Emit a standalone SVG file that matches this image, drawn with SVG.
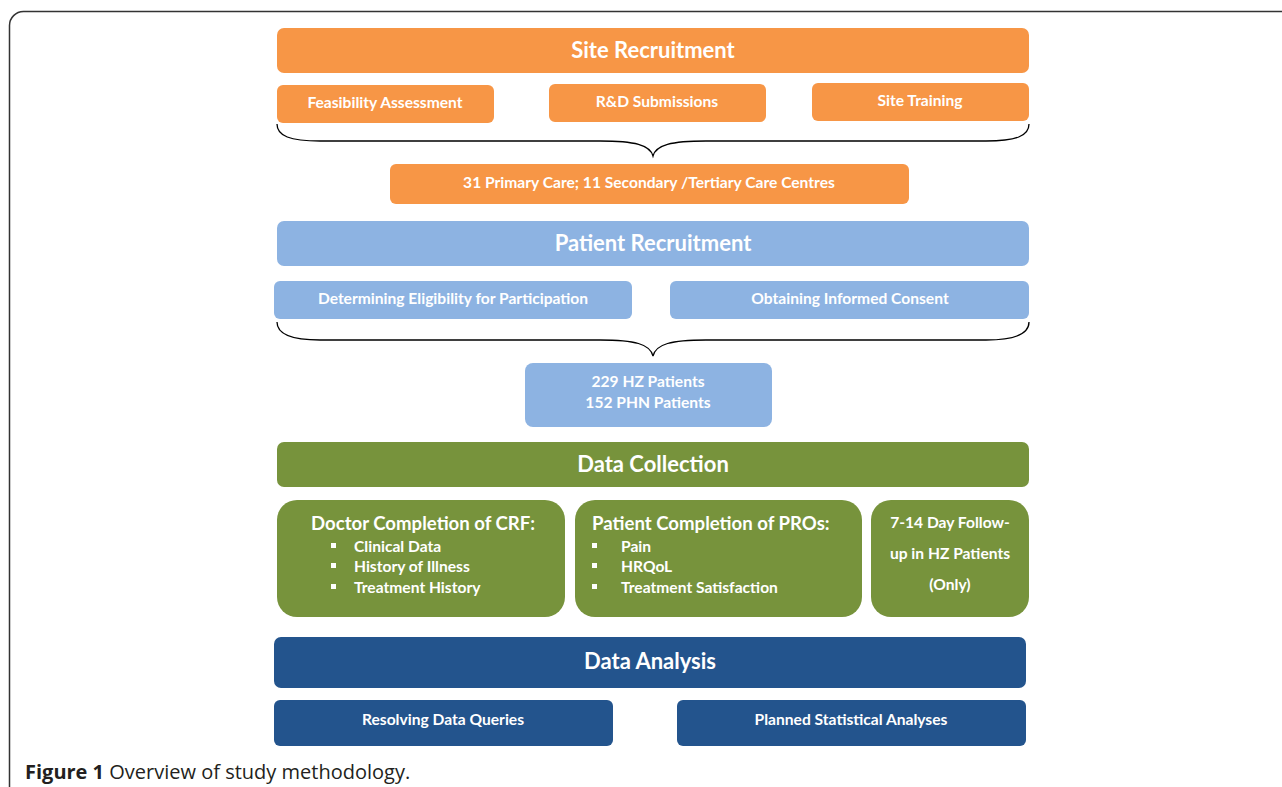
<svg xmlns="http://www.w3.org/2000/svg" width="1282" height="787" viewBox="0 0 1282 787">
<style>
text{font-family:Lato,"Open Sans","Liberation Sans",sans-serif;font-weight:bold;fill:#fff;text-anchor:middle}
.or{fill:#F79646}
.bl{fill:#8DB3E2}
.gr{fill:#77933C}
.db{fill:#23548D}
.h{font-size:22px}
.s{font-size:15.6px}
.m{font-size:18.6px}
.l{text-anchor:start}
.brace{fill:none;stroke:#000;stroke-width:1.3}
</style>
<rect x="9.5" y="11.5" width="1300" height="800" rx="14" fill="none" stroke="#333" stroke-width="1.5"/>
<g id="site-recruitment"><rect class="or" x="277" y="28" width="752" height="45" rx="7"/><text class="h" x="653" y="58">Site Recruitment</text></g>
<g id="feasibility"><rect class="or" x="277" y="85" width="217" height="38" rx="6"/><text class="s" x="385" y="108">Feasibility Assessment</text></g>
<g id="rd"><rect class="or" x="549" y="84" width="217" height="38" rx="6"/><text class="s" x="657" y="107">R&amp;D Submissions</text></g>
<g id="training"><rect class="or" x="812" y="83" width="217" height="38" rx="6"/><text class="s" x="920" y="106">Site Training</text></g>
<g id="centres"><rect class="or" x="390" y="164" width="519" height="40" rx="6"/><text class="s" x="649" y="188">31 Primary Care; 11 Secondary /Tertiary Care Centres</text></g>
<g id="patient-recruitment"><rect class="bl" x="277" y="221" width="752" height="45" rx="7"/><text class="h" x="653" y="251">Patient Recruitment</text></g>
<g id="eligibility"><rect class="bl" x="274" y="281" width="358" height="38" rx="6"/><text class="s" x="453" y="304">Determining Eligibility for Participation</text></g>
<g id="consent"><rect class="bl" x="670" y="281" width="359" height="38" rx="6"/><text class="s" x="850" y="304">Obtaining Informed Consent</text></g>
<g id="patients"><rect class="bl" x="525" y="363" width="247" height="64" rx="8"/><text class="s" x="648" y="387">229 HZ Patients</text><text class="s" x="648" y="408">152 PHN Patients</text></g>
<g id="data-collection"><rect class="gr" x="277" y="442" width="752" height="45" rx="7"/><text class="h" x="653" y="472">Data Collection</text></g>
<g id="doctor"><rect class="gr" x="277" y="500" width="288" height="117" rx="20"/><text class="m l" x="311" y="530">Doctor Completion of CRF:</text>
<rect x="331" y="543" width="5" height="5" fill="#fff"/><rect x="331" y="563" width="5" height="5" fill="#fff"/><rect x="331" y="584" width="5" height="5" fill="#fff"/>
<text class="s l" x="354" y="552">Clinical Data</text><text class="s l" x="354" y="572">History of Illness</text><text class="s l" x="354" y="593">Treatment History</text></g>
<g id="pros"><rect class="gr" x="575" y="500" width="287" height="117" rx="20"/><text class="m l" x="592" y="530">Patient Completion of PROs:</text>
<rect x="592" y="543" width="5" height="5" fill="#fff"/><rect x="592" y="563" width="5" height="5" fill="#fff"/><rect x="592" y="584" width="5" height="5" fill="#fff"/>
<text class="s l" x="621" y="552">Pain</text><text class="s l" x="621" y="572">HRQoL</text><text class="s l" x="621" y="593">Treatment Satisfaction</text></g>
<g id="followup"><rect class="gr" x="871" y="500" width="158" height="117" rx="20"/><text class="s" x="950" y="528">7-14 Day Follow-</text><text class="s" x="950" y="559">up in HZ Patients</text><text class="s" x="950" y="590">(Only)</text></g>
<g id="data-analysis"><rect class="db" x="274" y="637" width="752" height="51" rx="7"/><text class="h" x="650" y="669">Data Analysis</text></g>
<g id="queries"><rect class="db" x="274" y="700" width="339" height="46" rx="6"/><text class="s" x="443" y="725">Resolving Data Queries</text></g>
<g id="stats"><rect class="db" x="677" y="700" width="349" height="46" rx="6"/><text class="s" x="851" y="725">Planned Statistical Analyses</text></g>
<g id="connectors">
<path class="brace" d="M277,124 C277,136 290,141 320,141 L600,141 C635,141 650,145 653,156 C656,145 671,141 706,141 L986,141 C1016,141 1029,136 1029,124"/>
<path class="brace" d="M277,322 C277,334 290,340 320,340 L600,340 C635,340 650,344 653,356 C656,344 671,340 706,340 L986,340 C1016,340 1029,334 1029,322"/>
</g>
<text x="25" y="779" style="text-anchor:start;fill:#231F20;font-size:20px;font-family:'Open Sans','Liberation Sans',sans-serif"><tspan font-weight="bold">Figure 1</tspan><tspan font-weight="normal"> Overview of study methodology.</tspan></text>
</svg>
